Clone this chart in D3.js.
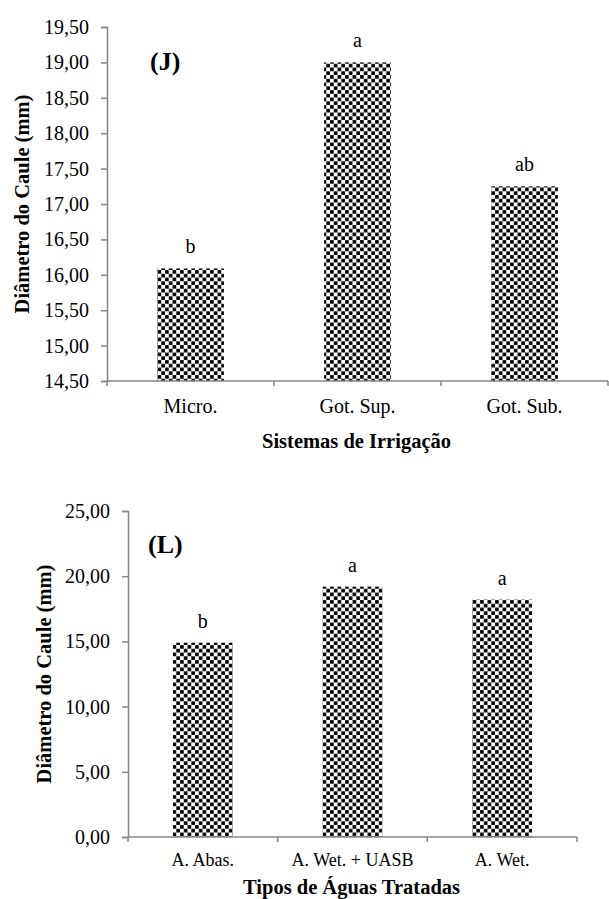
<!DOCTYPE html>
<html><head><meta charset="utf-8">
<script src="https://cdn.jsdelivr.net/npm/d3@7"></script>
<style>body{margin:0;background:#fff}svg{display:block}text{font-family:"Liberation Serif","Times New Roman",serif;fill:#000}</style>
</head><body>
<script>
const catsJ = ["Micro.", "Got. Sup.", "Got. Sub."];
const valsJ = [16.09, 19.00, 17.25];
const lettersJ = ["b", "a", "ab"];
const ticksJ = [14.5, 15, 15.5, 16, 16.5, 17, 17.5, 18, 18.5, 19, 19.5];

const catsL = ["A. Abas.", "A. Wet. + UASB", "A. Wet."];
const valsL = [14.9, 19.2, 18.2];
const lettersL = ["b", "a", "a"];
const ticksL = [0, 5, 10, 15, 20, 25];

const svg = d3.select("body").append("svg").attr("width", 609).attr("height", 899);
const defs = svg.append("defs");
const pat = defs.append("pattern").attr("id", "chk").attr("patternUnits", "userSpaceOnUse")
  .attr("width", 7.5).attr("height", 7.5);
pat.append("rect").attr("width", 7.5).attr("height", 7.5).attr("fill", "#fff");
pat.append("rect").attr("x", 0.1).attr("y", 0.1).attr("width", 3.6).attr("height", 3.6).attr("fill", "#000");
pat.append("rect").attr("x", 3.85).attr("y", 3.85).attr("width", 3.6).attr("height", 3.6).attr("fill", "#000");

const fmt = v => v.toFixed(2).replace(".", ",");
const axisColor = "#868686";

function chart(cfg) {
  const g = svg.append("g");
  const x = d3.scaleBand().domain(cfg.cats).range([cfg.x0, cfg.x1]).padding(0);
  const y = d3.scaleLinear().domain(cfg.domain).range([cfg.yb, cfg.yt]);
  const bw = x.bandwidth() * 0.4;

  g.selectAll("rect.bar").data(cfg.vals).enter().append("rect")
    .attr("x", (d, i) => x(cfg.cats[i]) + (x.bandwidth() - bw) / 2)
    .attr("y", d => y(d))
    .attr("width", bw)
    .attr("height", d => y(cfg.domain[0]) - y(d))
    .attr("fill", "url(#chk)");

  g.selectAll("text.let").data(cfg.vals).enter().append("text")
    .attr("x", (d, i) => x(cfg.cats[i]) + x.bandwidth() / 2)
    .attr("y", d => y(d) - 15)
    .attr("text-anchor", "middle").attr("font-size", 20)
    .text((d, i) => cfg.letters[i]);

  const ya = g.append("g").attr("transform", `translate(${cfg.x0},0)`)
    .call(d3.axisLeft(y).tickValues(cfg.ticks).tickFormat(fmt).tickSizeOuter(0).tickSize(6).tickPadding(12));
  ya.select(".domain").attr("stroke", axisColor).attr("stroke-width", 1.5);
  ya.selectAll(".tick line").attr("stroke", axisColor).attr("stroke-width", 1.5);
  ya.selectAll(".tick text").attr("font-size", 20).attr("font-family", "Liberation Serif").attr("fill", "#000");

  const yb = y(cfg.domain[0]);
  g.append("line").attr("x1", cfg.x0).attr("x2", cfg.x1).attr("y1", yb).attr("y2", yb)
    .attr("stroke", axisColor).attr("stroke-width", 1.5);
  const bounds = cfg.cats.map(c => x(c)).concat([cfg.x1]);
  g.selectAll("line.xt").data(bounds).enter().append("line")
    .attr("x1", d => d).attr("x2", d => d).attr("y1", yb).attr("y2", yb + 5)
    .attr("stroke", axisColor).attr("stroke-width", 1.5);
  g.selectAll("text.xl").data(cfg.cats).enter().append("text")
    .attr("x", d => x(d) + x.bandwidth() / 2).attr("y", cfg.xlabY)
    .attr("text-anchor", "middle").attr("font-size", cfg.xlabSize).text(d => d);

  g.append("text").attr("x", (cfg.x0 + cfg.x1) / 2 + cfg.xtDx).attr("y", cfg.xtY)
    .attr("text-anchor", "middle").attr("font-size", 20.5).attr("font-weight", "bold").text(cfg.xtitle);
  g.append("text").attr("transform", `translate(${cfg.ytX},${(cfg.yb + cfg.yt) / 2}) rotate(-90)`)
    .attr("text-anchor", "middle").attr("font-size", 20.5).attr("font-weight", "bold").text("Diâmetro do Caule (mm)");
  g.append("text").attr("x", cfg.pX).attr("y", cfg.pY).attr("font-size", 26).attr("font-weight", "bold").text(cfg.panel);
}

chart({cats: catsJ, vals: valsJ, letters: lettersJ, ticks: ticksJ, domain: [14.5, 19.5],
  x0: 107, x1: 608, yb: 381, yt: 27, xlabY: 413, xlabSize: 20, xtY: 448, xtDx: -1,
  xtitle: "Sistemas de Irrigação", ytX: 29, pX: 150, pY: 70, panel: "(J)"});

chart({cats: catsL, vals: valsL, letters: lettersL, ticks: ticksL, domain: [0, 25],
  x0: 128, x1: 577, yb: 837, yt: 511, xlabY: 866, xlabSize: 18, xtY: 894, xtDx: -1,
  xtitle: "Tipos de Águas Tratadas", ytX: 51, pX: 148, pY: 553, panel: "(L)"});
</script>
</body></html>
